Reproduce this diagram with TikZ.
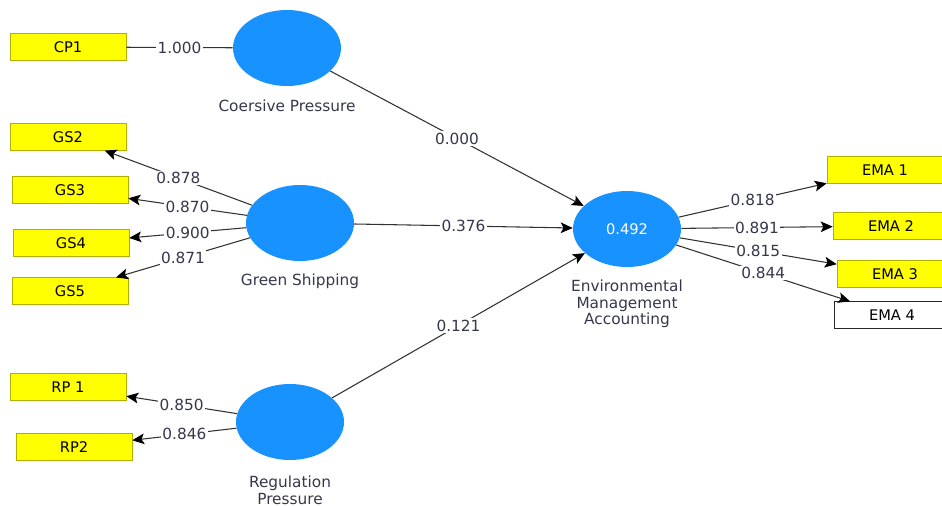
\documentclass[tikz,border=0pt]{standalone}
\usepackage{fontspec}
\setmainfont{DejaVu Sans}
\usetikzlibrary{shapes.geometric,arrows.meta}
\definecolor{lvblue}{RGB}{24,146,255}
\definecolor{indyellow}{RGB}{255,255,0}
\definecolor{indborder}{RGB}{175,175,0}
\definecolor{pathgray}{RGB}{50,50,50}
\definecolor{txtgray}{RGB}{55,55,75}
\begin{document}
\begin{tikzpicture}[x=0.75pt,y=-0.75pt,
        latent/.style={ellipse,fill=lvblue,minimum width=81pt,minimum height=57pt,inner sep=0pt,
            text=white,font=\fontsize{11}{12}\selectfont},
        indic/.style={draw=indborder,fill=indyellow,minimum width=87pt,minimum height=20pt,
            inner sep=0pt,font=\fontsize{11}{12}\selectfont},
        lvname/.style={text=txtgray,align=center,font=\fontsize{11.5}{12.5}\selectfont},
        coef/.style={fill=white,inner sep=1pt,text=txtgray,font=\fontsize{11.5}{12}\selectfont},
        link/.style={draw=pathgray,line width=0.8pt},
        arr/.style={link,-{Stealth[length=9pt,width=8pt,inset=2pt,black]}}]
    \useasboundingbox (0,0) rectangle (942,506);
    % latent variables
    \node[latent] (cp) at (287,48) {};
    \node[latent] (gs) at (300,223) {};
    \node[latent] (rp) at (290,422) {};
    \node[latent] (ema) at (627,229) {0.492};
    \node[lvname] (cpname) at (287,106) {Coersive Pressure};
    \node[lvname] (gsname) at (300,281) {Green Shipping};
    \node[lvname] (rpname) at (290,490) {Regulation\\Pressure};
    \node[lvname] (emaname) at (627,304) {Environmental\\Management\\Accounting};
    % indicators
    \node[indic] (cp1) at (68,47) {CP1};
    \node[indic] (gs2) at (68,137) {GS2};
    \node[indic] (gs3) at (70,190) {GS3};
    \node[indic] (gs4) at (71,243) {GS4};
    \node[indic] (gs5) at (70,291) {GS5};
    \node[indic] (rp1) at (68,387) {RP 1};
    \node[indic] (rp2) at (74,447) {RP2};
    \node[indic] (ema1) at (885,170) {EMA 1};
    \node[indic] (ema2) at (891,226) {EMA 2};
    \node[indic] (ema3) at (895,274) {EMA 3};
    \node[indic,draw=black!85,fill=white] (ema4) at (892,315) {EMA 4};
    % outer model
    \draw[link] (cp1) -- node[coef] {1.000} (cp);
    \draw[arr] (gs) -- node[coef] {0.878} (gs2);
    \draw[arr] (gs) -- node[coef] {0.870} (gs3);
    \draw[arr] (gs) -- node[coef] {0.900} (gs4);
    \draw[arr] (gs) -- node[coef] {0.871} (gs5);
    \draw[arr] (rp) -- node[coef] {0.850} (rp1);
    \draw[arr] (rp) -- node[coef] {0.846} (rp2);
    \draw[arr] (ema) -- node[coef] {0.818} (ema1);
    \draw[arr] (ema) -- node[coef] {0.891} (ema2);
    \draw[arr] (ema) -- node[coef] {0.815} (ema3);
    \draw[arr] (ema) -- node[coef] {0.844} (ema4);
    % inner model
    \draw[arr] (cp) -- node[coef] {0.000} (ema);
    \draw[arr] (gs) -- node[coef] {0.376} (ema);
    \draw[arr] (rp) -- node[coef] {0.121} (ema);
\end{tikzpicture}
\end{document}
